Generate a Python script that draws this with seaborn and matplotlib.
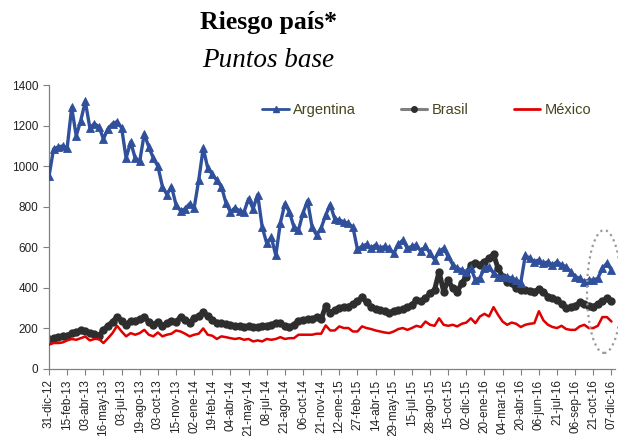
import numpy as np
import pandas as pd
import matplotlib
matplotlib.use("Agg")
import matplotlib.pyplot as plt
from matplotlib.lines import Line2D
from matplotlib.patches import Ellipse
import seaborn as sns

# ---------------- data (4 samples per x label) -------------
tick_labels = ["31-dic-12", "15-feb-13", "03-abr-13", "16-may-13", "03-jul-13", "19-ago-13",
               "03-oct-13", "15-nov-13", "02-ene-14", "19-feb-14", "04-abr-14", "21-may-14",
               "08-jul-14", "21-ago-14", "06-oct-14", "21-nov-14", "12-ene-15", "27-feb-15",
               "14-abr-15", "29-may-15", "15-jul-15", "28-ago-15", "15-oct-15", "02-dic-15",
               "20-ene-16", "04-mar-16", "20-abr-16", "06-jun-16", "21-jul-16", "06-sep-16",
               "21-oct-16", "07-dic-16"]

argentina = [950, 1085, 1095, 1100,
             1090, 1290, 1150, 1225,
             1320, 1190, 1210, 1195,
             1135, 1185, 1210, 1220,
             1190, 1040, 1120, 1040,
             1025, 1160, 1095, 1040,
             1000, 900, 860, 900,
             810, 780, 790, 815,
             795, 930, 1090, 990,
             960, 930, 900, 820,
             775, 795, 780, 775,
             840, 790, 860, 700,
             620, 650, 560, 720,
             815, 775, 700, 685,
             770, 830, 700, 660,
             695, 760, 810, 740,
             735, 726, 718, 700,
             590, 605, 615, 595,
             612, 595, 605, 595,
             570, 615, 635, 595,
             605, 612, 580, 605,
             570, 540, 580, 595,
             555, 515, 497, 488,
             480, 497, 440, 450,
             497, 505, 472, 456,
             456, 456, 447, 440,
             425, 560, 546, 530,
             538, 521, 529, 513,
             529, 513, 505, 480,
             456, 447, 431, 439,
             439, 447, 497, 521,
             488]

brasil = [147, 151, 157, 161,
          164, 177, 180, 193,
          185, 177, 174, 164,
          193, 213, 234, 256,
          239, 218, 239, 239,
          246, 256, 234, 218,
          234, 213, 226, 239,
          234, 256, 243, 229,
          251, 262, 279, 262,
          243, 229, 229, 223,
          218, 213, 210, 207,
          210, 207, 207, 210,
          213, 218, 229, 226,
          210, 207, 218, 239,
          243, 246, 246, 256,
          246, 310, 275, 292,
          300, 308, 308, 321,
          333, 355, 328, 308,
          295, 292, 284, 275,
          288, 292, 295, 305,
          316, 341, 333, 349,
          374, 390, 480, 382,
          439, 398, 382, 423,
          456, 513, 524, 513,
          529, 546, 565, 497,
          456, 431, 423, 398,
          390, 390, 387, 382,
          393, 382, 357, 349,
          341, 321, 300, 305,
          311, 328, 321, 311,
          308, 321, 333, 349,
          333]

mexico = [120, 128, 128, 131,
          141, 148, 144, 152,
          160, 141, 148, 148,
          128, 152, 177, 213,
          185, 161, 177, 169,
          177, 193, 169, 161,
          180, 161, 169, 174,
          190, 185, 174, 161,
          169, 174, 200, 169,
          164, 148, 161, 157,
          152, 148, 152, 144,
          148, 136, 141, 136,
          148, 144, 148, 157,
          148, 152, 152, 169,
          169, 169, 169, 174,
          174, 215, 190, 190,
          210, 202, 202, 185,
          185, 210, 202, 197,
          190, 185, 180, 177,
          185, 197, 202, 193,
          202, 213, 207, 234,
          218, 213, 250, 218,
          213, 218, 210, 223,
          229, 250, 226, 259,
          272, 259, 305, 267,
          234, 218, 229, 223,
          207, 218, 223, 226,
          285, 240, 218, 207,
          202, 213, 197, 193,
          193, 210, 218, 202,
          202, 213, 256, 256,
          234]

series_names = ["Argentina", "Brasil", "México"]
samples_per_label = 4

# ---------------- figure ----------------
sns.set_style("white")
plt.rcParams["font.family"] = ["Liberation Sans", "DejaVu Sans"]

fig = plt.figure(figsize=(6.18, 4.36), dpi=100)
ax = fig.add_axes([0.0793, 0.1537, 0.916, 0.651])

x = np.arange(len(argentina)) / samples_per_label
df = pd.DataFrame({"t": x, "Argentina": argentina, "Brasil": brasil, "México": mexico})

c_arg = "#30509C"
c_bra = "#2E2E2E"
c_mex = "#E00000"

sns.lineplot(data=df, x="t", y="Brasil", ax=ax, color=c_bra, linewidth=3.6,
             marker="o", markersize=6, markeredgewidth=0, zorder=2)
sns.lineplot(data=df, x="t", y="México", ax=ax, color=c_mex, linewidth=1.8, zorder=3)
sns.lineplot(data=df, x="t", y="Argentina", ax=ax, color=c_arg, linewidth=2.4,
             marker="^", markersize=5.5, markeredgewidth=0.6, markeredgecolor=c_arg, zorder=4)

ax.set_xlim(0, 31.2)
ax.set_ylim(0, 1400)
ax.set_yticks(np.arange(0, 1401, 200))
ax.set_xticks(np.arange(len(tick_labels)))
ax.set_xticklabels(tick_labels, rotation=90, fontsize=8.5, color="#222222")
ax.tick_params(axis="y", labelsize=8.5, labelcolor="#222222")
ax.tick_params(axis="both", direction="out", length=4, width=0.8, color="#808080", left=True, bottom=True)
ax.set_xlabel("")
ax.set_ylabel("")
for side in ["top", "right"]:
    ax.spines[side].set_visible(False)
for side in ["left", "bottom"]:
    ax.spines[side].set_color("#808080")
    ax.spines[side].set_linewidth(0.9)

# dotted ellipse highlighting the latest values
ax.add_patch(Ellipse((30.6, 382), width=1.9, height=606, fill=False, linestyle=":",
                     edgecolor="#9a9a9a", linewidth=1.6, clip_on=False, zorder=5))

handles = [Line2D([], [], color=c_arg, linewidth=2, marker="^", markersize=4),
           Line2D([], [], color="#808080", linewidth=2.2, marker="o", markersize=4,
                  markerfacecolor=c_bra, markeredgecolor=c_bra),
           Line2D([], [], color=c_mex, linewidth=2)]
ax.legend(handles, series_names, ncol=3, loc="center left", bbox_to_anchor=(0.377, 0.912),
          frameon=False, fontsize=10.5, handlelength=1.8, handletextpad=0.3,
          columnspacing=3.1, borderaxespad=0, borderpad=0, labelcolor="#45451e")

fig.text(0.434, 0.948, "Riesgo país*", ha="center", va="center", fontsize=18.5,
         fontweight="bold", family=["Liberation Serif", "DejaVu Serif"], color="black")
fig.text(0.434, 0.862, "Puntos base", ha="center", va="center", fontsize=19.5,
         style="italic", family=["Liberation Serif", "DejaVu Serif"], color="black")

fig.savefig("out.png", dpi=100)
